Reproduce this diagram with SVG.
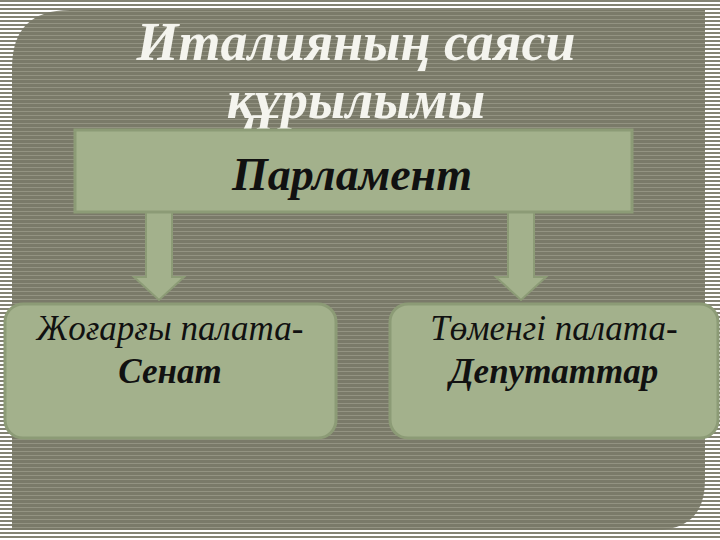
<svg xmlns="http://www.w3.org/2000/svg" width="720" height="540" viewBox="0 0 720 540">
<defs>
<pattern id="outer" width="4" height="4" patternUnits="userSpaceOnUse"><rect width="4" height="4" fill="#ffffff"/><rect width="4" height="2" fill="#838373"/></pattern>
<pattern id="inner" width="4" height="4" patternUnits="userSpaceOnUse"><rect width="4" height="4" fill="#939382"/><rect width="4" height="3" fill="#7a7a69"/></pattern>
<style>
.box{fill:#a3b18c;stroke:#8c9b76;stroke-width:3}
.arr{fill:#a3b18c;stroke:#8c9b76;stroke-width:2}
.t{font-family:"Liberation Serif",serif;font-style:italic;font-size:35px;fill:#111;text-anchor:middle}
.b{font-weight:bold}
.p{font-size:46px}
</style>
</defs>
<rect width="720" height="540" fill="url(#outer)"/>
<path d="M70 10 H705 V480 Q705 530 655 530 H12 V68 Q12 10 70 10 Z" fill="url(#inner)"/>
<g id="title" font-family="Liberation Serif,serif" font-style="italic" font-weight="bold" font-size="54" fill="#f4f4ee" text-anchor="middle">
<text x="356" y="60">Италияның саяси</text>
<text x="356" y="118">құрылымы</text>
</g>
<g id="connectors">
<path class="arr" d="M146 212 H172 V277 H184 L159 300 L134 277 H146 Z"/>
<path class="arr" d="M508 212 H534 V277 H546 L521 300 L496 277 H508 Z"/>
</g>
<g id="parliament"><rect class="box" x="75" y="130" width="557" height="82"/>
<text class="t b p" x="352" y="190">Парламент</text></g>
<g id="senate"><rect class="box" x="5" y="304" width="331" height="134" rx="18"/>
<text class="t" x="170" y="340">Жоғарғы палата-</text><text class="t b" x="170" y="383">Сенат</text></g>
<g id="deputies"><rect class="box" x="390" y="304" width="328" height="134" rx="18"/>
<text class="t" x="554" y="340">Төменгі палата-</text><text class="t b" x="554" y="383">Депутаттар</text></g>
</svg>
